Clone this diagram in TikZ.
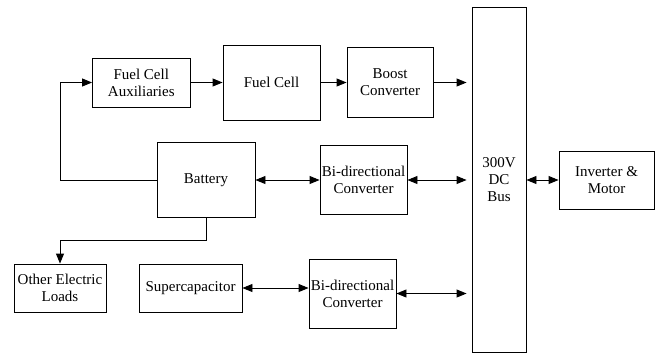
\documentclass[tikz,border=0pt]{standalone}
\usepackage{fontspec}
\setmainfont{Liberation Serif}
\usetikzlibrary{arrows.meta}

\tikzset{
  blk/.style={draw, line width=0.9pt, align=center, inner sep=1pt,
    font=\fontsize{15}{17}\selectfont},
}

\begin{document}
\begin{tikzpicture}[x=1pt, y=-1pt, line width=0.9pt,
    >={Triangle[length=10pt,width=8pt]}]

    \useasboundingbox (0,0) rectangle (660,357);

    % top row
    \node[blk, minimum width=97.5pt, minimum height=49pt] (aux) at (141.25,82.5) {Fuel Cell\\Auxiliaries};
    \node[blk, minimum width=97pt, minimum height=75pt] (fc) at (271.5,82.5) {Fuel Cell};
    \node[blk, minimum width=86pt, minimum height=70pt] (boost) at (390,82.5) {Boost\\Converter};

    % bus and motor
    \node[blk, minimum width=54pt, minimum height=345pt] (bus) at (499,179.5) {300V\\DC\\Bus};
    \node[blk, minimum width=95pt, minimum height=58pt] (inv) at (606.5,180) {Inverter \&\\Motor};

    % storage
    \node[blk, minimum width=98pt, minimum height=75pt] (bat) at (206,180) {Battery};
    \node[blk, minimum width=87pt, minimum height=69pt] (bdca) at (363.5,180) {Bi-directional\\Converter};
    \node[blk, minimum width=92pt, minimum height=48pt] (loads) at (60,288) {Other Electric\\Loads};
    \node[blk, minimum width=103pt, minimum height=48pt] (scap) at (190.5,288) {Supercapacitor};
    \node[blk, minimum width=87pt, minimum height=69pt] (bdcb) at (352.5,293.5) {Bi-directional\\Converter};

    \draw[->] (aux) -- (fc);
    \draw[->] (fc) -- (boost);
    \draw[->, shorten >=5pt] (boost.east) -- (boost.east -| bus.west);

    \draw[<->] (bat) -- (bdca);
    \draw[<->, shorten >=5pt] (bdca.east) -- (bdca.east -| bus.west);
    \draw[<->] (bus.east |- inv.west) -- (inv.west);

    \draw[<->] (scap.east) -- (scap.east -| bdcb.west);
    \draw[<->, shorten >=5pt] (bdcb.east) -- (bdcb.east -| bus.west);

    \draw[->] (bat.west) -- (bat.west -| loads.north) |- (aux.west);
    \draw[->] (bat.south) -- ++(0,22) -| (loads.north);

\end{tikzpicture}
\end{document}
